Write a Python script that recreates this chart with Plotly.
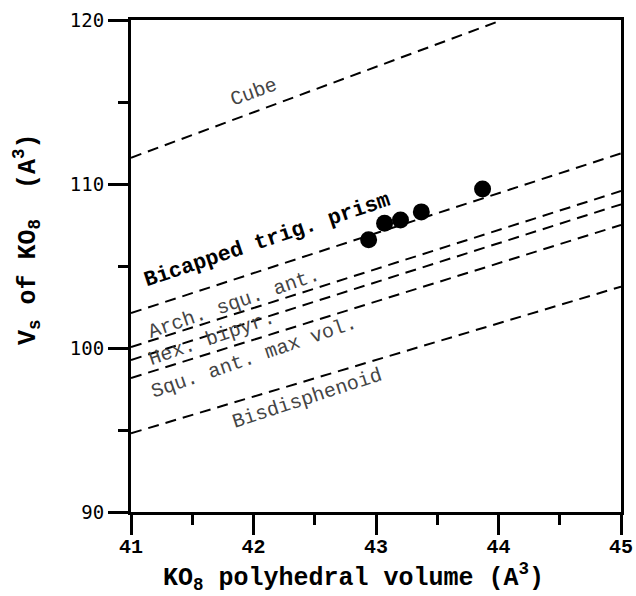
import plotly.graph_objects as go

# Data points (KO8 polyhedral volume vs Vs)
pts_x = [42.94, 43.07, 43.20, 43.37, 43.87]
pts_y = [106.6, 107.6, 107.8, 108.3, 109.7]

# Reference lines: name, x-endpoints, y-endpoints
line_names = ["Cube", "Bicapped trig. prism", "Arch. squ. ant.", "Hex. bipyr.",
              "Squ. ant. max vol.", "Bisdisphenoid"]
line_x0 = [41.0, 41.0, 41.0, 41.0, 41.0, 41.0]
line_x1 = [44.03, 45.0, 45.0, 45.0, 45.0, 45.0]
line_y0 = [111.6, 102.13, 100.06, 99.27, 98.17, 94.8]
line_y1 = [120.0, 111.87, 109.57, 108.76, 107.5, 103.74]

# Label positions / angles
label_x = [42.00, 42.11, 41.84, 41.66, 42.00, 42.44]
label_y = [115.55, 106.6, 102.74, 100.55, 99.45, 96.95]
label_angle = [-20, -18.5, -19, -19, -19, -18]
label_bold = [False, True, False, False, False, False]
label_size = [20, 21.5, 20, 20, 20, 20]

x_ticks = [41, 42, 43, 44, 45]
y_ticks = [90, 100, 110, 120]

MONO = "Liberation Mono, Courier New, monospace"

fig = go.Figure()

for i in range(len(line_names)):
    fig.add_trace(go.Scatter(
        x=[line_x0[i], line_x1[i]], y=[line_y0[i], line_y1[i]],
        mode="lines", line=dict(color="black", width=2, dash="11px,7px"),
        showlegend=False, hoverinfo="skip"))

fig.add_trace(go.Scatter(
    x=pts_x, y=pts_y, mode="markers",
    marker=dict(color="black", size=17, line=dict(width=0)),
    showlegend=False))

for i in range(len(line_names)):
    txt = f"<b>{line_names[i]}</b>" if label_bold[i] else line_names[i]
    fig.add_annotation(
        x=label_x[i], y=label_y[i], text=txt, showarrow=False,
        textangle=label_angle[i],
        font=dict(family=MONO, size=label_size[i],
                  color="black" if label_bold[i] else "#444444"))

# Axis titles
fig.add_annotation(
    xref="paper", yref="paper", x=0.5, y=0, xanchor="center", yanchor="middle",
    xshift=-23, yshift=-65,
    text="<b>KO<sub>8</sub> polyhedral volume (A<sup>3</sup>)</b>",
    showarrow=False, font=dict(family=MONO, size=25, color="black"))
fig.add_annotation(
    xref="paper", yref="paper", x=0, y=0.5, xanchor="center", yanchor="middle",
    xshift=-104, yshift=27,
    text="<b>V<sub>s</sub> of KO<sub>8</sub>  (A<sup>3</sup>)</b>",
    textangle=-90, showarrow=False,
    font=dict(family=MONO, size=25, color="black"))

fig.update_layout(
    width=636, height=596,
    margin=dict(l=131, r=15, t=20, b=84),
    paper_bgcolor="white", plot_bgcolor="white",
    xaxis=dict(
        range=[41, 45], tickvals=x_ticks, ticktext=[str(v) for v in x_ticks],
        showgrid=False, zeroline=False, automargin=False,
        showline=True, linecolor="black", linewidth=3, mirror=True,
        ticks="outside", ticklen=20, tickwidth=3, tickcolor="black",
        ticklabelstandoff=-6,
        minor=dict(dtick=0.5, ticks="outside", ticklen=10, tickwidth=3,
                   tickcolor="black", showgrid=False),
        tickfont=dict(family=MONO, size=20, color="black", weight="bold"),
    ),
    yaxis=dict(
        range=[90, 120], tickvals=y_ticks, ticktext=[str(v) for v in y_ticks],
        showgrid=False, zeroline=False, automargin=False,
        showline=True, linecolor="black", linewidth=3, mirror=True,
        ticks="outside", ticklen=20, tickwidth=3, tickcolor="black",
        minor=dict(dtick=5, ticks="outside", ticklen=10, tickwidth=3,
                   tickcolor="black", showgrid=False),
        tickfont=dict(family="DejaVu Sans Mono", size=19, color="black"),
    ),
)

# Remove the default page margin so the figure fills the 636x596 window.
fig.write_html(
    "out.html",
    config={"displayModeBar": False},
    post_script="document.body.style.margin='0';document.body.style.overflow='hidden';",
)
